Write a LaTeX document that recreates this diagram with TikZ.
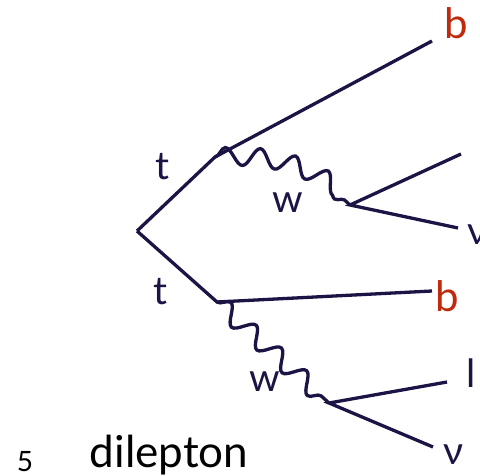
\documentclass[tikz,border=0pt]{standalone}
\usepackage{fontspec}
\setmainfont{Lato}
\usetikzlibrary{decorations.pathmorphing}
\definecolor{navy}{HTML}{1C1444}
\definecolor{bred}{HTML}{C02A0C}
\begin{document}
\begin{tikzpicture}[x=1pt,y=-1pt,
  fline/.style={draw=navy, line width=3.3pt},
  wline/.style={draw=navy, line width=3.3pt, decorate,
    decoration={snake, amplitude=9pt, segment length=34pt}},
  lbl/.style={text=navy, font=\fontsize{39}{40}\selectfont, inner sep=0pt},
  blbl/.style={text=bred, font=\fontsize{42}{44}\selectfont, inner sep=0pt},
  plain/.style={text=black, inner sep=0pt}]
\useasboundingbox (0,0) rectangle (480,476);
\clip (0,0) rectangle (480,476);
% vertices
\coordinate (v) at (137,231);
\coordinate (t1) at (215,157);
\coordinate (t2) at (217,302);
\coordinate (w1) at (350,205);
\coordinate (w2) at (329,403);
\coordinate (b1e) at (432,41);
\coordinate (b2e) at (432,291);
\coordinate (l1e) at (461,154);
\coordinate (n1e) at (458,228);
\coordinate (l2e) at (447,382);
\coordinate (n2e) at (433,447);
% lines
\draw[fline] (v) -- (t1) -- (b1e);
\draw[fline] (v) -- (t2) -- (b2e);
\draw[wline] (t1) to[bend left=22] (w1);
\draw[wline] (t2) -- (w2);
\draw[fline] (l1e) -- (w1) -- (n1e);
\draw[fline] (l2e) -- (w2) -- (n2e);
% labels
\node[lbl] (tu) at (162,167) {t};
\node[lbl] (tl) at (160,292) {t};
\node[lbl] (wu) at (288,203) {w};
\node[lbl] (wl) at (265,382) {w};
\node[blbl] (bu) at (456,23) {b};
\node[blbl] (bl) at (447,296) {b};
\node[lbl, anchor=west] (lu) at (478,134) {l};
\node[lbl, anchor=west] (nu) at (467,235) {ν};
\node[lbl, anchor=west] (ll) at (466,373) {l};
\node[lbl] (nl) at (454,455) {ν};
\node[plain, font=\fontsize{28}{30}\selectfont] (five) at (25,462) {5};
\node[plain, font=\fontsize{44}{46}\selectfont, anchor=base] (dl) at (169,467) {dilepton};
\end{tikzpicture}
\end{document}
